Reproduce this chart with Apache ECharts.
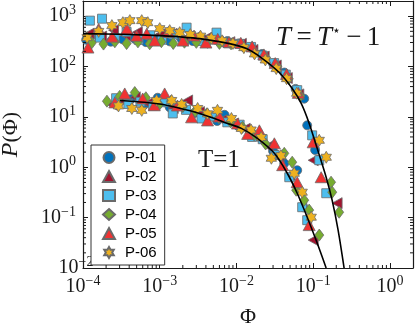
<!DOCTYPE html>
<html>
<head>
<meta charset="UTF-8">
<title>P(Phi)</title>
<script src="https://cdn.jsdelivr.net/npm/echarts@6/dist/echarts.min.js"></script>
<style>
  html, body { margin: 0; padding: 0; background: #fff; }
  #main { width: 415px; height: 327px; }
</style>
</head>
<body>
<div id="main"></div>
<script type="text/javascript">
// series names
var names = ['P-01', 'P-02', 'P-03', 'P-04', 'P-05', 'P-06'];

// T = T*-1 group, [Phi, P]
var p01Upper = [[1.1e-4,340],[1.6e-4,386],[2.3e-4,311],[3.3e-4,346],[4.7e-4,356],[6.6e-4,305],[9.5e-4,367],[1.35e-3,316],[1.9e-3,359],[2.7e-3,320],[3.8e-3,347],[5.4e-3,339],[7.6e-3,320],[0.0108,288],[0.0152,240],[0.0215,178],[0.030,115],[0.042,76],[0.059,36],[0.0764,23],[0.0836,6.8],[0.106,2.2]];
var p02Upper = [[1.2e-4,449],[1.75e-4,394],[2.5e-4,527],[3.6e-4,415],[5.1e-4,479],[7.2e-4,365],[1.03e-3,440],[1.45e-3,445],[2.05e-3,348],[2.9e-3,380],[4.1e-3,372],[5.8e-3,313],[8.2e-3,305],[0.0116,282],[0.0164,214],[0.023,158],[0.033,105],[0.046,59],[0.065,28],[0.1,1.38],[0.205,0.194]];
var p03Upper = [[1.23e-4,815],[1.66e-4,375],[1.77e-4,891],[2.6e-4,364],[3.7e-4,486],[5.3e-4,339],[7.5e-4,417],[1.07e-3,340],[1.5e-3,434],[2.24e-3,592],[3.2e-3,321],[5.5e-3,471],[7.8e-3,288],[0.011,282],[0.0155,245],[0.022,165],[0.031,117],[0.044,69],[0.062,34],[0.097,4.3],[0.12,1.38],[0.148,0.305]];
var p04Upper = [[1.3e-4,295],[1.85e-4,279],[2.6e-4,310],[3.7e-4,286],[5.2e-4,309],[7.4e-4,283],[1.05e-3,311],[1.5e-3,287],[2.1e-3,304],[3.0e-3,302],[4.2e-3,302],[6e-3,288],[8.5e-3,282],[0.012,257],[0.017,204],[0.024,151],[0.034,100],[0.048,57],[0.068,26],[0.171,0.505],[0.177,0.32],[0.218,0.128]];
var p05Upper = [[1.16e-4,238],[1.6e-4,558],[2.4e-4,392],[3.73e-4,565],[5.0e-4,408],[6.78e-4,450],[8.6e-4,327],[1.3e-3,486],[2.0e-3,327],[2.8e-3,412],[4.0e-3,299],[5.7e-3,355],[8.0e-3,307],[0.0114,295],[0.016,251],[0.0228,174],[0.032,117],[0.045,71],[0.064,30],[0.1,3.13],[0.127,0.634]];
var p06Upper = [[1.13e-4,375],[1.6e-4,498],[2.38e-4,649],[3.31e-4,743],[4.08e-4,815],[5.83e-4,815],[6.99e-4,743],[1e-3,565],[1.35e-3,516],[1.82e-3,471],[2.5e-3,432],[3.4e-3,401],[4.7e-3,363],[6.5e-3,324],[9e-3,288],[0.0125,237],[0.0172,178],[0.0238,135],[0.033,91],[0.045,57.5],[0.061,29.5],[0.12,3.43],[0.148,1.58]];

// T = 1 group, [Phi, P]
var p01Lower = [[2.9e-4,19.0],[4.2e-4,22.5],[6.3e-4,17.5],[9.4e-4,24],[1.35e-3,15.5],[1.95e-3,17.0],[2.8e-3,11.8],[4.0e-3,10.5],[5.6e-3,8.3],[7.0e-3,11.0],[0.0105,6.6],[0.015,4.9],[0.021,3.7],[0.03,2.1],[0.042,1.2],[0.0619,0.873],[0.075,0.16]];
var p02Lower = [[2.4e-4,17.5],[3.2e-4,21.2],[4.8e-4,24.5],[7.0e-4,18.5],[1.0e-3,20.5],[1.5e-3,15.0],[2.31e-3,21.2],[3.3e-3,12.5],[4.6e-3,10.0],[6.5e-3,8.6],[9.2e-3,7.4],[0.013,5.8],[0.0185,4.3],[0.026,2.6],[0.036,1.55],[0.05,0.7],[0.1,0.0358]];
var p03Lower = [[2.7e-4,23.5],[3.9e-4,18.0],[5.6e-4,20.0],[8.2e-4,16.5],[1.15e-3,19.5],[1.48e-3,11.7],[2.2e-3,13.8],[3.5e-3,9.3],[5.0e-3,10.2],[7.6e-3,7.8],[0.011,7.0],[0.016,4.0],[0.022,3.6],[0.0315,1.75],[0.0488,0.634],[0.0719,0.161],[0.0836,0.089]];
var p04Lower = [[2.05e-4,20.5],[3.0e-4,25.5],[4.73e-4,30.5],[6.6e-4,24.0],[9.8e-4,17.5],[1.4e-3,20.5],[2.0e-3,16.0],[2.9e-3,13.0],[4.1e-3,11.5],[5.9e-3,9.6],[8.4e-3,8.0],[0.012,6.2],[0.017,4.4],[0.024,2.9],[0.042,1.89],[0.0533,1.26],[0.0601,0.35],[0.0764,0.222],[0.0887,0.141],[0.12,0.045]];
var p05Lower = [[2.6e-4,19.4],[3.5e-4,29.2],[6.0e-4,23.2],[8.5e-4,17.0],[1.16e-3,29.2],[1.7e-3,16.8],[2.6e-3,9.8],[4.2e-3,8.5],[6.0e-3,10.2],[0.0103,7.4],[0.014,4.6],[0.0199,5.41],[0.0312,2.99],[0.04,1.1],[0.0619,0.505],[0.0887,0.071]];
var p06Lower = [[2.9e-4,16.5],[4.33e-4,14.7],[5.83e-4,13.5],[9.1e-4,21.2],[1.43e-3,21.2],[1.93e-3,17.7],[3.12e-3,14.7],[4.2e-3,11.5],[5.66e-3,13.5],[8.6e-3,9.3],[0.0116,5.9],[0.0155,5.5],[0.021,3.9],[0.0285,1.51],[0.038,1.7],[0.0566,0.76],[0.0719,0.32],[0.0942,0.102]];

// fitted curves
var fitUpper = [[1e-4,450],[3.16e-4,436],[1e-3,411],[1.78e-3,389],[3.31e-3,358],[8.11e-3,285],[0.0135,227],[0.0218,144],[0.0361,76],[0.0533,36.6],[0.0698,18.5],[0.0887,7.43],[0.1127,2.38],[0.1476,0.634],[0.1766,0.222],[0.2113,0.0565],[0.2529,0.01]];
var fitLower = [[3.03e-4,21.2],[6.3e-4,19.5],[1.27e-3,16.9],[2.5e-3,13.2],[4.73e-3,9.77],[6.98e-3,7.78],[0.0116,5.92],[0.01875,3.75],[0.0312,1.89],[0.0459,0.76],[0.0619,0.305],[0.0836,0.102],[0.1127,0.0313],[0.1476,0.01]];

var xRange = [1e-4, 2];
var yRange = [1e-2, 2000];

var colors = ['#0072BD', '#A2142F', '#4DBEEE', '#77AC30', '#F03232', '#EDB120'];
var hexagram = 'path://M0,-100L-28.9,-50L-86.6,-50L-57.7,0L-86.6,50L-28.9,50L0,100L28.9,50L86.6,50L57.7,0L86.6,-50L28.9,-50Z';
var symbols = ['circle', 'triangle', 'rect', 'diamond', 'triangle', hexagram];
var symbolRotates = [0, 90, 0, 0, 0, 0];
var symbolSizes = [9, [11, 10], 9, [9, 12], [12, 11], 12];

var upper = [p01Upper, p02Upper, p03Upper, p04Upper, p05Upper, p06Upper];
var lower = [p01Lower, p02Lower, p03Lower, p04Lower, p05Lower, p06Lower];

// minor ticks 2..9 per decade
function minorTicks(lo, hi) {
  var out = [];
  for (var k = Math.floor(Math.log10(lo)); k <= Math.ceil(Math.log10(hi)); k++) {
    for (var m = 2; m <= 9; m++) {
      var v = m * Math.pow(10, k);
      if (v > lo && v < hi) out.push(v);
    }
  }
  return out;
}
var xMinor = minorTicks(xRange[0], xRange[1]);
var yMinor = minorTicks(yRange[0], yRange[1]);

var serif = 'Liberation Serif';

function powLabel(v) {
  var e = Math.round(Math.log10(v));
  if (Math.abs(v / Math.pow(10, e) - 1) > 1e-6) return '';
  return '{b|10}{s|' + (e < 0 ? '\u2212' + (-e) : e) + '}';
}
var labelRich = {
  b: { fontFamily: serif, fontSize: 20, color: '#1a1a1a' },
  s: { fontFamily: serif, fontSize: 14, color: '#1a1a1a', padding: [0, 0, 11, 0] }
};

var axisLineStyle = { color: '#1a1a1a', width: 1.2 };

var series = [];
for (var i = 0; i < 6; i++) {
  series.push({
    name: names[i],
    type: 'scatter',
    data: upper[i].concat(lower[i]),
    symbol: symbols[i],
    symbolSize: symbolSizes[i],
    symbolRotate: symbolRotates[i],
    symbolKeepAspect: true,
    itemStyle: { color: colors[i], borderColor: '#6a6a6a', borderWidth: 0.8, opacity: 1 },
    z: 3 + i
  });
}
series.push({
  type: 'line', data: fitUpper, showSymbol: false, smooth: 0.3, silent: true,
  lineStyle: { color: '#000', width: 1.6 }, z: 20
});
series.push({
  type: 'line', data: fitLower, showSymbol: false, smooth: 0.3, silent: true,
  lineStyle: { color: '#000', width: 1.6 }, z: 20
});
// minor ticks on all four sides
series.push({
  type: 'custom', silent: true, clip: false, z: 30,
  data: xMinor.map(function (v) { return [v, 1]; }),
  renderItem: function (params, api) {
    var b = api.coord([api.value(0), yRange[0]]);
    var t = api.coord([api.value(0), yRange[1]]);
    var st = { stroke: '#1a1a1a', lineWidth: 1 };
    return { type: 'group', children: [
      { type: 'line', shape: { x1: b[0], y1: b[1], x2: b[0], y2: b[1] - 3 }, style: st },
      { type: 'line', shape: { x1: t[0], y1: t[1], x2: t[0], y2: t[1] + 3 }, style: st }
    ] };
  }
});
series.push({
  type: 'custom', silent: true, clip: false, z: 30,
  data: yMinor.map(function (v) { return [1e-2, v]; }),
  renderItem: function (params, api) {
    var l = api.coord([xRange[0], api.value(1)]);
    var r = api.coord([xRange[1], api.value(1)]);
    var st = { stroke: '#1a1a1a', lineWidth: 1 };
    return { type: 'group', children: [
      { type: 'line', shape: { x1: l[0], y1: l[1], x2: l[0] + 3, y2: l[1] }, style: st },
      { type: 'line', shape: { x1: r[0], y1: r[1], x2: r[0] - 3, y2: r[1] }, style: st }
    ] };
  }
});

var myChart = echarts.init(document.getElementById('main'));
var option = {
  animation: false,
  grid: { left: 83, right: 2, top: 1, bottom: 59, outerBoundsMode: 'none', containLabel: false },
  legend: {
    data: names,
    orient: 'vertical',
    left: 91, top: 145,
    padding: [5, 8, 5, 11],
    itemWidth: 12, itemHeight: 11, itemGap: 4,
    backgroundColor: '#fff',
    borderColor: '#333', borderWidth: 1, borderRadius: 0,
    textStyle: { fontFamily: 'Liberation Sans', fontSize: 15, color: '#000', lineHeight: 15, padding: [0, 0, 0, 5] }
  },
  xAxis: [{
    type: 'log', min: xRange[0], max: xRange[1],
    name: '\u03A6', nameLocation: 'middle', nameGap: 38,
    nameTextStyle: { fontFamily: serif, fontSize: 22, color: '#1a1a1a' },
    axisLine: { lineStyle: axisLineStyle },
    axisTick: { inside: true, length: 5, lineStyle: { color: '#1a1a1a', width: 1 } },
    axisLabel: { formatter: powLabel, rich: labelRich, margin: 6, showMaxLabel: false, alignMinLabel: 'center' },
    splitLine: { show: false }
  }, {
    type: 'log', min: xRange[0], max: xRange[1], position: 'top',
    axisLine: { lineStyle: axisLineStyle },
    axisTick: { inside: true, length: 5, lineStyle: { color: '#1a1a1a', width: 1 } },
    axisLabel: { show: false }, splitLine: { show: false }
  }],
  yAxis: [{
    type: 'log', min: yRange[0], max: yRange[1],
    name: '{i|P}{n|(\u03A6)}', nameLocation: 'middle', nameGap: 60,
    nameTextStyle: { rich: {
      i: { fontFamily: serif, fontStyle: 'italic', fontSize: 24, color: '#1a1a1a' },
      n: { fontFamily: serif, fontSize: 22, color: '#1a1a1a' }
    } },
    axisLine: { lineStyle: axisLineStyle },
    axisTick: { inside: true, length: 5, lineStyle: { color: '#1a1a1a', width: 1 } },
    axisLabel: { formatter: powLabel, rich: labelRich, margin: 7, showMaxLabel: false, alignMinLabel: 'center' },
    splitLine: { show: false }
  }, {
    type: 'log', min: yRange[0], max: yRange[1], position: 'right',
    axisLine: { lineStyle: axisLineStyle },
    axisTick: { inside: true, length: 5, lineStyle: { color: '#1a1a1a', width: 1 } },
    axisLabel: { show: false }, splitLine: { show: false }
  }],
  graphic: [{
    type: 'text', left: 276, top: 24, z: 50,
    style: {
      text: '{i|T}{n|\u2009=\u2009}{i|T}{s|\u22C6}{n|\u2009\u2212\u20091}',
      rich: {
        i: { fontFamily: serif, fontStyle: 'italic', fontSize: 27, fill: '#1a1a1a' },
        n: { fontFamily: serif, fontSize: 27, fill: '#1a1a1a' },
        s: { fontFamily: 'DejaVu Sans', fontSize: 14, fill: '#1a1a1a', padding: [0, 0, 14, 0] }
      }
    }
  }, {
    type: 'text', left: 198, top: 148, z: 50,
    style: { text: 'T=1', fontFamily: serif, fontSize: 25, fill: '#1a1a1a' }
  }],
  series: series
};
myChart.setOption(option);
</script>
</body>
</html>
